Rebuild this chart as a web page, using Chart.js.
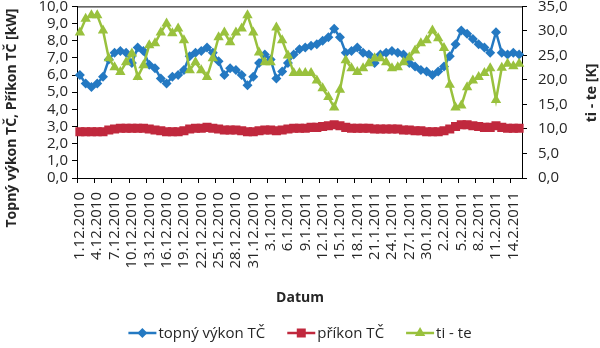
<!DOCTYPE html>
<html>
<head>
<meta charset="utf-8">
<script src="https://cdn.jsdelivr.net/npm/chart.js@4.4.1/dist/chart.umd.min.js"></script>
<style>
  html, body { margin: 0; padding: 0; background: #fff; }
  #wrap { width: 600px; height: 348px; }
</style>
</head>
<body>
<div id="wrap"><canvas id="heatChart" width="600" height="348"></canvas></div>
<script>
const dates = [
  "1.12.2010", "2.12.2010", "3.12.2010", "4.12.2010", "5.12.2010", "6.12.2010", "7.12.2010",
  "8.12.2010", "9.12.2010", "10.12.2010", "11.12.2010", "12.12.2010", "13.12.2010", "14.12.2010",
  "15.12.2010", "16.12.2010", "17.12.2010", "18.12.2010", "19.12.2010", "20.12.2010", "21.12.2010",
  "22.12.2010", "23.12.2010", "24.12.2010", "25.12.2010", "26.12.2010", "27.12.2010", "28.12.2010",
  "29.12.2010", "30.12.2010", "31.12.2010", "1.1.2011", "2.1.2011", "3.1.2011", "4.1.2011",
  "5.1.2011", "6.1.2011", "7.1.2011", "8.1.2011", "9.1.2011", "10.1.2011", "11.1.2011",
  "12.1.2011", "13.1.2011", "14.1.2011", "15.1.2011", "16.1.2011", "17.1.2011", "18.1.2011",
  "19.1.2011", "20.1.2011", "21.1.2011", "22.1.2011", "23.1.2011", "24.1.2011", "25.1.2011",
  "26.1.2011", "27.1.2011", "28.1.2011", "29.1.2011", "30.1.2011", "31.1.2011", "1.2.2011",
  "2.2.2011", "3.2.2011", "4.2.2011", "5.2.2011", "6.2.2011", "7.2.2011", "8.2.2011",
  "9.2.2011", "10.2.2011", "11.2.2011", "12.2.2011", "13.2.2011", "14.2.2011", "15.2.2011"
];

// topný výkon TČ [kW]
const heatOutput = [
  6.0, 5.5, 5.3, 5.5, 5.9, 6.9, 7.3, 7.4, 7.3, 6.7,
  7.6, 7.4, 6.6, 6.4, 5.8, 5.5, 5.9, 6.0, 6.3, 7.1,
  7.3, 7.4, 7.6, 7.3, 6.8, 6.0, 6.4, 6.3, 6.0, 5.4,
  5.9, 6.7, 7.2, 6.9, 5.8, 6.2, 6.7, 7.2, 7.5, 7.6,
  7.7, 7.8, 8.0, 8.2, 8.7, 8.2, 7.3, 7.4, 7.6, 7.3,
  7.2, 6.7, 7.2, 7.3, 7.4, 7.3, 7.2, 6.7, 6.5, 6.3,
  6.2, 6.0, 6.2, 6.5, 7.1, 7.8, 8.6, 8.4, 8.1, 7.8,
  7.6, 7.3, 8.5, 7.3, 7.2, 7.3, 7.2
];

// příkon TČ [kW]
const powerInput = [
  2.7, 2.7, 2.7, 2.7, 2.7, 2.8, 2.85, 2.9, 2.9, 2.9,
  2.9, 2.9, 2.85, 2.8, 2.75, 2.7, 2.7, 2.7, 2.75, 2.85,
  2.9, 2.9, 2.95, 2.9, 2.85, 2.8, 2.8, 2.8, 2.75, 2.7,
  2.7, 2.75, 2.8, 2.8, 2.75, 2.8, 2.85, 2.9, 2.9, 2.9,
  2.95, 2.95, 3.0, 3.05, 3.1, 3.05, 2.95, 2.9, 2.9, 2.9,
  2.9, 2.85, 2.85, 2.85, 2.85, 2.85, 2.8, 2.8, 2.75, 2.75,
  2.7, 2.7, 2.7, 2.75, 2.85, 3.0, 3.1, 3.1, 3.05, 3.0,
  2.95, 2.95, 3.05, 2.95, 2.9, 2.9, 2.9
];

// ti - te [K]
const tempDiff = [
  29.7, 32.5, 33.2, 33.2, 30.1, 24.4, 22.6, 21.6, 23.6, 25.4,
  20.6, 23.0, 27.1, 27.5, 29.7, 31.5, 29.5, 30.5, 28.1, 22.0,
  23.6, 22.0, 20.6, 24.4, 28.7, 29.7, 27.7, 29.7, 30.5, 33.2,
  29.7, 25.6, 23.6, 23.6, 30.7, 28.1, 25.0, 21.4, 21.4, 21.4,
  21.4, 19.9, 18.3, 16.5, 14.4, 18.0, 24.0, 22.4, 21.6, 22.4,
  23.4, 24.4, 24.4, 23.6, 22.4, 22.6, 23.6, 24.6, 26.0, 27.5,
  28.1, 30.1, 28.5, 26.5, 19.0, 14.4, 14.8, 18.5, 19.9, 20.6,
  21.4, 22.4, 15.9, 22.5, 23.3, 22.8, 23.3
];

const BLUE = "#2479c2";
const RED = "#c0283d";
const GREEN = "#99c13d";
const FONT = "'Open Sans'";
const TEXT = "#262626";

const fmt = v => v.toFixed(1).replace(".", ",");

// axis titles, top frame line and a legend with line + marker samples
const extras = {
  id: "extras",
  afterDraw(chart) {
    const { ctx, chartArea: a } = chart;
    ctx.save();
    ctx.strokeStyle = "#000";
    ctx.lineWidth = 1;
    ctx.beginPath();
    ctx.moveTo(a.left, a.top + 0.5);
    ctx.lineTo(a.right, a.top + 0.5);
    ctx.stroke();

    ctx.fillStyle = TEXT;
    ctx.font = "bold 14px " + FONT;
    ctx.textAlign = "center";
    ctx.textBaseline = "middle";
    ctx.fillText("Datum", 300, 298);

    ctx.save();
    ctx.translate(12, 118);
    ctx.rotate(-Math.PI / 2);
    ctx.fillText("Topný výkon TČ, Příkon TČ [kW]", 0, 0);
    ctx.restore();

    ctx.save();
    ctx.translate(592, 93);
    ctx.rotate(-Math.PI / 2);
    ctx.fillText("ti - te [K]", 0, 0);
    ctx.restore();

    // legend
    ctx.font = "15px " + FONT;
    ctx.textAlign = "left";
    const lineLen = 28, gap = 2, itemGap = 22, ly = 333;
    const items = chart.data.datasets.map(ds => ({
      ds, w: lineLen + gap + ctx.measureText(ds.label).width
    }));
    const total = items.reduce((s, it) => s + it.w, 0) + itemGap * (items.length - 1);
    let x = 300 - total / 2;
    items.forEach(({ ds, w }) => {
      ctx.strokeStyle = ds.borderColor;
      ctx.lineWidth = 2.5;
      ctx.beginPath();
      ctx.moveTo(x, ly);
      ctx.lineTo(x + lineLen, ly);
      ctx.stroke();
      const cx = x + lineLen / 2;
      ctx.fillStyle = ds.backgroundColor;
      ctx.beginPath();
      if (ds.pointStyle === "rectRot") {
        ctx.moveTo(cx, ly - 5); ctx.lineTo(cx + 5, ly); ctx.lineTo(cx, ly + 5); ctx.lineTo(cx - 5, ly);
      } else if (ds.pointStyle === "rect") {
        ctx.rect(cx - 4.5, ly - 4.5, 9, 9);
      } else {
        ctx.moveTo(cx, ly - 6); ctx.lineTo(cx + 5.2, ly + 3); ctx.lineTo(cx - 5.2, ly + 3);
      }
      ctx.closePath();
      ctx.fill();
      ctx.fillStyle = TEXT;
      ctx.fillText(ds.label, x + lineLen + gap, ly + 1);
      x += w + itemGap;
    });
    ctx.restore();
  }
};

const ctxHeat = document.getElementById("heatChart").getContext("2d");

let heatChart = new Chart(ctxHeat, {
  type: "line",
  data: {
    labels: dates,
    datasets: [
      {
        label: "topný výkon TČ",
        data: heatOutput,
        yAxisID: "y",
        borderColor: BLUE,
        backgroundColor: BLUE,
        borderWidth: 2.5,
        pointStyle: "rectRot",
        pointRadius: 5,
        pointBorderWidth: 0,
        order: 2,
      },
      {
        label: "příkon TČ",
        data: powerInput,
        yAxisID: "y",
        borderColor: RED,
        backgroundColor: RED,
        borderWidth: 2.5,
        pointStyle: "rect",
        pointRadius: 6.4,
        pointBorderWidth: 0,
        order: 3,
      },
      {
        label: "ti - te",
        data: tempDiff,
        yAxisID: "y1",
        borderColor: GREEN,
        backgroundColor: GREEN,
        borderWidth: 2.5,
        pointStyle: "triangle",
        pointRadius: 6,
        pointBorderWidth: 0,
        order: 1,
      },
    ],
  },
  options: {
    responsive: false,
    animation: false,
    layout: { padding: { top: 6, left: 0, right: 0, bottom: 0 } },
    elements: { line: { tension: 0 } },
    plugins: {
      legend: { display: false },
      tooltip: { enabled: false },
    },
    scales: {
      x: {
        type: "category",
        offset: true,
        grid: {
          offset: true,
          drawOnChartArea: false,
          tickLength: 5,
          color: c => (c.index % 3 === 0 ? "#000" : "rgba(0,0,0,0)"),
        },
        border: { color: "#000", width: 1 },
        ticks: {
          autoSkip: false,
          minRotation: 90,
          maxRotation: 90,
          padding: 9,
          color: TEXT,
          font: { family: FONT, size: 15 },
          callback(v, i) {
            return i % 3 === 0 ? this.getLabelForValue(v) : "";
          },
        },
        afterFit(s) {
          s.height = 170;
          s.paddingLeft = 0;
          s.paddingRight = 0;
        },
      },
      y: {
        position: "left",
        min: 0,
        max: 10,
        grid: { drawOnChartArea: false, tickLength: 5, color: "#000" },
        border: { color: "#000", width: 1 },
        ticks: {
          autoSkip: false,
          stepSize: 1,
          padding: 4,
          color: TEXT,
          font: { family: FONT, size: 15 },
          callback: v => fmt(v),
        },
        afterFit(s) {
          s.width = 77;
          s.paddingTop = 0;
          s.paddingBottom = 0;
        },
      },
      y1: {
        position: "right",
        min: 0,
        max: 35,
        grid: { drawOnChartArea: false, tickLength: 5, color: "#000" },
        border: { color: "#000", width: 1 },
        ticks: {
          autoSkip: false,
          stepSize: 5,
          padding: 11,
          color: TEXT,
          font: { family: FONT, size: 15 },
          callback: v => fmt(v),
        },
        afterFit(s) {
          s.width = 78;
          s.paddingTop = 0;
          s.paddingBottom = 0;
        },
      },
    },
  },
  plugins: [extras],
});
</script>
</body>
</html>
